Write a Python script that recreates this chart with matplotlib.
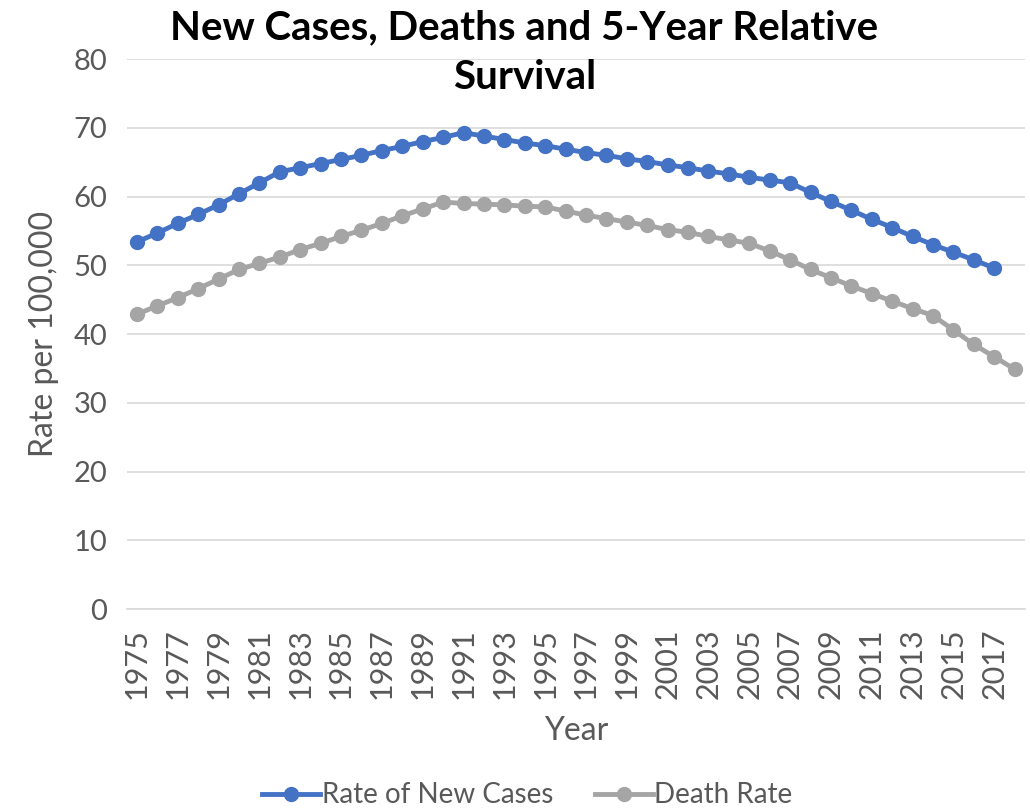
import matplotlib.pyplot as plt

years = list(range(1975, 2019))

new_cases = [53.4, 54.7, 56.1, 57.4, 58.8, 60.4, 62.0, 63.6, 64.2, 64.8,
             65.4, 66.0, 66.7, 67.3, 68.0, 68.6, 69.3, 68.8, 68.3, 67.8,
             67.4, 66.9, 66.4, 66.0, 65.5, 65.1, 64.6, 64.2, 63.7, 63.3,
             62.8, 62.4, 62.0, 60.6, 59.3, 58.0, 56.7, 55.5, 54.2, 53.0,
             51.9, 50.8, 49.6]

death_rate = [42.9, 44.1, 45.3, 46.6, 48.0, 49.4, 50.3, 51.2, 52.3, 53.2,
              54.2, 55.1, 56.1, 57.2, 58.2, 59.2, 59.0, 58.9, 58.8, 58.6,
              58.5, 57.9, 57.3, 56.8, 56.3, 55.8, 55.2, 54.8, 54.2, 53.7,
              53.2, 52.1, 50.8, 49.4, 48.2, 47.0, 45.9, 44.8, 43.7, 42.7,
              40.6, 38.5, 36.7, 34.9]

plt.rcParams['font.family'] = ['Lato', 'DejaVu Sans']
grey_text = '#595959'

fig = plt.figure(figsize=(10.3, 8.09), dpi=100)
ax = fig.add_axes([0.123, 0.247, 0.872, 0.68])

x_new = list(range(len(new_cases)))
x_death = list(range(len(death_rate)))

ax.plot(x_new, new_cases, color='#4472C4', lw=3.5, marker='o',
        markersize=10, label='Rate of New Cases', zorder=3)
ax.plot(x_death, death_rate, color='#A5A5A5', lw=3.5, marker='o',
        markersize=10, label='Death Rate', zorder=3)

ax.set_xlim(-0.5, len(years) - 0.5)
ax.set_ylim(0, 80)
ax.set_yticks(range(0, 81, 10))
ax.set_xticks(range(0, len(years), 2))
ax.set_xticklabels([str(y) for y in years[::2]], rotation=90, fontsize=22)

ax.grid(axis='y', color='#D9D9D9', lw=1.2)
ax.set_axisbelow(True)
for side in ['top', 'right', 'left']:
    ax.spines[side].set_visible(False)
ax.spines['bottom'].set_color('#D9D9D9')
ax.spines['bottom'].set_linewidth(1.2)
ax.tick_params(axis='both', length=0, colors=grey_text)
ax.tick_params(axis='y', labelsize=21, pad=14)
ax.tick_params(axis='x', pad=14)

ax.set_ylabel('Rate per 100,000', fontsize=23, color=grey_text, labelpad=10)
ax.set_xlabel('Year', fontsize=23, color=grey_text, labelpad=12)

fig.text(0.509, 0.935, 'New Cases, Deaths and 5-Year Relative\nSurvival',
         ha='center', va='center', fontsize=29, fontweight='bold',
         linespacing=1.45)

fig.legend(loc='center', bbox_to_anchor=(0.512, 0.017), ncol=2,
           frameon=False, fontsize=20, labelcolor=grey_text,
           handlelength=2.1, columnspacing=1.5, handletextpad=0.05)

fig.savefig('out.png', dpi=100)
